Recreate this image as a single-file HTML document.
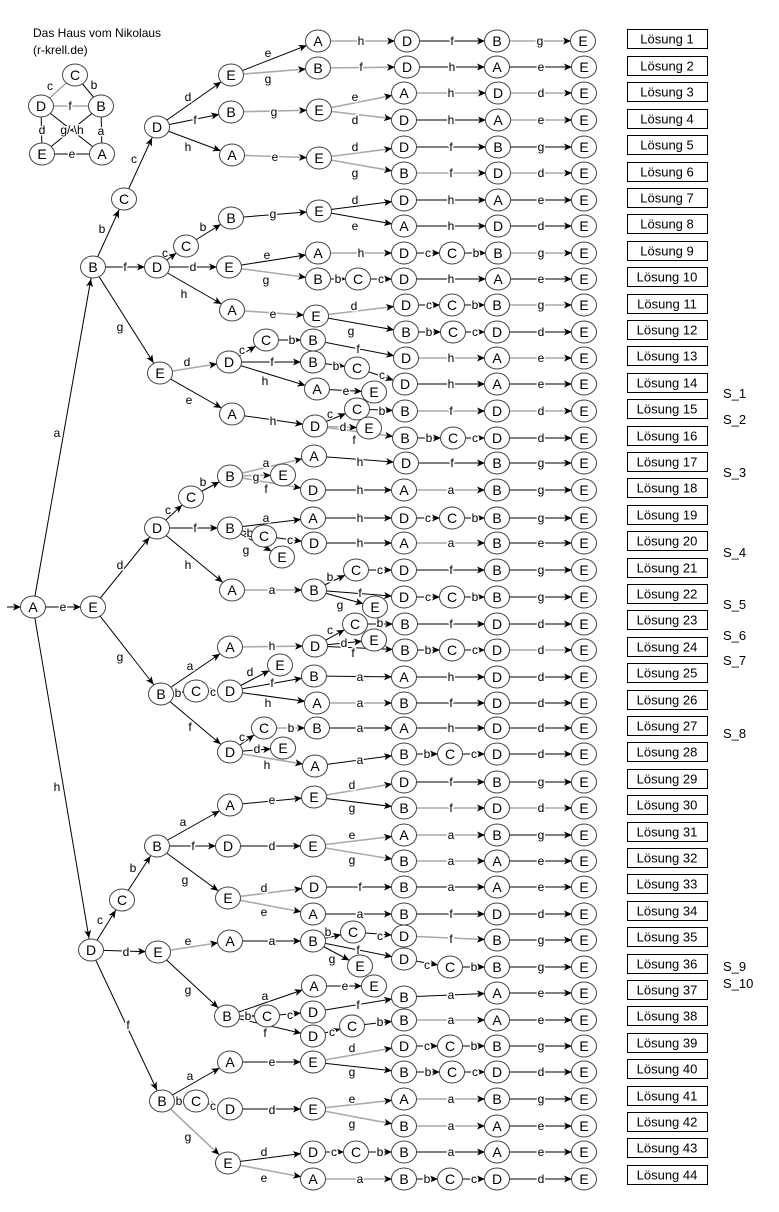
<!DOCTYPE html>
<html><head><meta charset="utf-8"><style>
body{margin:0;background:#fff}
svg{display:block}
.e path{stroke:#000;stroke-width:1;fill:none;marker-end:url(#ar)}
.e path.g{stroke:#aaa;stroke-width:1.6}
.l text{font:12px "Liberation Sans",sans-serif;text-anchor:middle;dominant-baseline:central;paint-order:stroke;stroke:#fff;stroke-width:3px;fill:#000}
.n ellipse{fill:#fff;stroke:#444;stroke-width:1}
.n text{font:14px "Liberation Sans",sans-serif;text-anchor:middle;dominant-baseline:central;fill:#000}
.b rect{fill:#fff;stroke:#000;stroke-width:1}
.b text{font:13px "Liberation Sans",sans-serif;text-anchor:middle;dominant-baseline:central}
.s{font:13px "Liberation Sans",sans-serif}
</style></head><body>
<svg width="779" height="1212" viewBox="0 0 779 1212" xmlns="http://www.w3.org/2000/svg">
<defs><marker id="ar" markerUnits="userSpaceOnUse" markerWidth="26" markerHeight="10" viewBox="-26 -5 26 10" refX="0" refY="0" orient="auto"><path d="M-12,0 L-20,-3.5 L-18,0 L-20,3.5 z" fill="#000"/></marker></defs>

<text x="33" y="37" style="font:12px 'Liberation Sans',sans-serif">Das Haus vom Nikolaus</text>
<text x="33" y="54" style="font:12px 'Liberation Sans',sans-serif">(r-krell.de)</text>
<g stroke="#000" stroke-width="1">
<line x1="75" y1="75" x2="41" y2="106" stroke="#888"/><line x1="75" y1="75" x2="101" y2="106"/>
<line x1="41" y1="106" x2="101" y2="106" stroke="#aaa" stroke-width="1.6"/>
<line x1="41" y1="106" x2="42" y2="154"/><line x1="101" y1="106" x2="102" y2="154"/>
<line x1="42" y1="154" x2="102" y2="154"/><line x1="41" y1="106" x2="102" y2="154"/><line x1="101" y1="106" x2="42" y2="154"/>
</g>
<g class="l"><text x="50" y="86">c</text><text x="94" y="85">b</text><text x="70" y="106">f</text><text x="42" y="130">d</text><text x="72" y="130">g/ \h</text><text x="101" y="131">a</text><text x="72" y="154">e</text></g>
<g class="n">
<ellipse cx="75" cy="75" rx="12.5" ry="11"/><text x="75" y="75">C</text>
<ellipse cx="41" cy="106" rx="12.5" ry="11"/><text x="41" y="106">D</text>
<ellipse cx="101" cy="106" rx="12.5" ry="11"/><text x="101" y="106">B</text>
<ellipse cx="42" cy="154" rx="12.5" ry="11"/><text x="42" y="154">E</text>
<ellipse cx="102" cy="154" rx="12.5" ry="11"/><text x="102" y="154">A</text>
</g>

<g class="e">
<path d="M7 607L33 607"/>
<path d="M33 607L93 267"/><path d="M33 607L93 607"/><path d="M33 607L91 950"/>
<path d="M93 267L124 199"/><path d="M124 199L157 127"/>
<path d="M157 127L231 75"/><path d="M157 127L231 112"/><path d="M157 127L232 155"/>
<path d="M231 75L318 41"/><path d="M231 75L318 68" class="g"/>
<path d="M318 41L407 41" class="g"/><path d="M407 41L497 41"/><path d="M497 41L583 41" class="g"/>
<path d="M318 68L407 67" class="g"/><path d="M407 67L497 67"/><path d="M497 67L584 67"/>
<path d="M231 112L319 110" class="g"/>
<path d="M319 110L404 93" class="g"/><path d="M404 93L498 93" class="g"/><path d="M498 93L584 93" class="g"/>
<path d="M319 110L404 120" class="g"/><path d="M404 120L498 120"/><path d="M498 120L584 120" class="g"/>
<path d="M232 155L319 158" class="g"/>
<path d="M319 158L404 147" class="g"/><path d="M404 147L498 147"/><path d="M498 147L584 147"/>
<path d="M319 158L404 173" class="g"/><path d="M404 173L498 173" class="g"/><path d="M498 173L584 173" class="g"/>
<path d="M93 267L157 267"/><path d="M157 267L186 246"/><path d="M186 246L231 218"/>
<path d="M231 218L319 211"/>
<path d="M319 211L404 200"/><path d="M404 200L498 200"/><path d="M498 200L584 200"/>
<path d="M319 211L404 226"/><path d="M404 226L498 226"/><path d="M498 226L584 226"/>
<path d="M157 267L229 267"/>
<path d="M229 267L318 253"/><path d="M318 253L404 253" class="g"/><path d="M404 253L452 253"/><path d="M452 253L498 253"/><path d="M498 253L584 253" class="g"/>
<path d="M229 267L318 279" class="g"/><path d="M318 279L358 279"/><path d="M358 279L404 279"/><path d="M404 279L498 279"/><path d="M498 279L584 279"/>
<path d="M157 267L232 310"/><path d="M232 310L316 316" class="g"/>
<path d="M316 316L406 305" class="g"/><path d="M406 305L452 305"/><path d="M452 305L497 305"/><path d="M497 305L584 305" class="g"/>
<path d="M316 316L406 332"/><path d="M406 332L453 332"/><path d="M453 332L497 332"/><path d="M497 332L584 332"/>
<path d="M93 267L160 373"/>
<path d="M160 373L229 362" class="g"/>
<path d="M229 362L266 340"/><path d="M266 340L313 340"/><path d="M313 340L406 358"/><path d="M406 358L497 358" class="g"/><path d="M497 358L584 358" class="g"/>
<path d="M229 362L313 362"/><path d="M313 362L357 368"/><path d="M357 368L405 384"/><path d="M405 384L497 384"/><path d="M497 384L584 384"/>
<path d="M229 362L317 389"/><path d="M317 389L374 392"/>
<path d="M160 373L232 414"/><path d="M232 414L315 426"/>
<path d="M315 426L357 409"/><path d="M357 409L405 411"/><path d="M405 411L497 411" class="g"/><path d="M497 411L584 411" class="g"/>
<path d="M315 426L369 428" class="g"/>
<path d="M315 426L405 438" class="g"/><path d="M405 438L453 438"/><path d="M453 438L497 438"/><path d="M497 438L584 438"/>

<path d="M93 607L157 528"/>
<path d="M157 528L191 497"/><path d="M191 497L230 476"/>
<path d="M230 476L314 456" class="g"/><path d="M314 456L406 463"/><path d="M406 463L497 463"/><path d="M497 463L584 463"/>
<path d="M230 476L283 475" class="g"/>
<path d="M230 476L313 490" class="g"/><path d="M313 490L404 490"/><path d="M404 490L497 490" class="g"/><path d="M497 490L584 490"/>
<path d="M157 528L230 528"/>
<path d="M230 528L313 518"/><path d="M313 518L404 518"/><path d="M404 518L452 518"/><path d="M452 518L497 518"/><path d="M497 518L584 518"/>
<path d="M230 528L264 536"/><path d="M264 536L314 543"/><path d="M314 543L404 543"/><path d="M404 543L497 543" class="g"/><path d="M497 543L584 543"/>
<path d="M230 528L282 557"/>
<path d="M157 528L232 590"/><path d="M232 590L314 590" class="g"/>
<path d="M314 590L356 570"/><path d="M356 570L404 570"/><path d="M404 570L497 570"/><path d="M497 570L584 570"/>
<path d="M314 590L404 597"/><path d="M404 597L452 597"/><path d="M452 597L497 597"/><path d="M497 597L584 597"/>
<path d="M314 590L375 607"/>
<path d="M93 607L161 694"/>
<path d="M161 694L230 647"/><path d="M230 647L315 646" class="g"/>
<path d="M315 646L355 624"/><path d="M355 624L405 624"/><path d="M405 624L497 624"/><path d="M497 624L584 624"/>
<path d="M315 646L374 640"/>
<path d="M315 646L405 650"/><path d="M405 650L452 650"/><path d="M452 650L497 650"/><path d="M497 650L584 650" class="g"/>
<path d="M161 694L196 691"/><path d="M196 691L230 691"/>
<path d="M230 691L280 665"/>
<path d="M230 691L314 676"/><path d="M314 676L404 677"/><path d="M404 677L497 677"/><path d="M497 677L584 677"/>
<path d="M230 691L317 703"/><path d="M317 703L404 703" class="g"/><path d="M404 703L497 703"/><path d="M497 703L584 703"/>
<path d="M161 694L230 752"/>
<path d="M230 752L264 728"/><path d="M264 728L317 728" class="g"/><path d="M317 728L404 728"/><path d="M404 728L497 728"/><path d="M497 728L584 728"/>
<path d="M230 752L283 748"/>
<path d="M230 752L315 766" class="g"/><path d="M315 766L404 754"/><path d="M404 754L450 754"/><path d="M450 754L497 754"/><path d="M497 754L584 754"/>

<path d="M91 950L122 900"/><path d="M122 900L157 846"/>
<path d="M157 846L230 805"/><path d="M230 805L314 797"/>
<path d="M314 797L404 782" class="g"/><path d="M404 782L497 782"/><path d="M497 782L584 782"/>
<path d="M314 797L404 808"/><path d="M404 808L497 808" class="g"/><path d="M497 808L584 808" class="g"/>
<path d="M157 846L228 846"/><path d="M228 846L313 846"/>
<path d="M313 846L404 835" class="g"/><path d="M404 835L497 835" class="g"/><path d="M497 835L584 835"/>
<path d="M313 846L404 861" class="g"/><path d="M404 861L497 861" class="g"/><path d="M497 861L584 861"/>
<path d="M157 846L228 898"/>
<path d="M228 898L314 887" class="g"/><path d="M314 887L404 887"/><path d="M404 887L497 887"/><path d="M497 887L584 887"/>
<path d="M228 898L313 914" class="g"/><path d="M313 914L404 914"/><path d="M404 914L497 914"/><path d="M497 914L584 914"/>
<path d="M91 950L158 952"/>
<path d="M158 952L230 941" class="g"/><path d="M230 941L313 941"/>
<path d="M313 941L353 932"/><path d="M353 932L404 936"/><path d="M404 936L497 940" class="g"/><path d="M497 940L584 940"/>
<path d="M313 941L404 959"/><path d="M404 959L450 967"/><path d="M450 967L497 967"/><path d="M497 967L584 967"/>
<path d="M313 941L360 966"/>
<path d="M158 952L227 1016"/>
<path d="M227 1016L314 986"/><path d="M314 986L374 986"/>
<path d="M227 1016L267 1016"/><path d="M267 1016L313 1012"/>
<path d="M313 1012L404 997"/><path d="M404 997L497 993"/><path d="M497 993L584 993"/>
<path d="M227 1016L313 1036"/><path d="M313 1036L352 1026"/><path d="M352 1026L404 1020"/><path d="M404 1020L497 1020" class="g"/><path d="M497 1020L584 1020"/>
<path d="M91 950L162 1101"/>
<path d="M162 1101L230 1062"/><path d="M230 1062L313 1062"/>
<path d="M313 1062L404 1046" class="g"/><path d="M404 1046L450 1046"/><path d="M450 1046L497 1046"/><path d="M497 1046L584 1046"/>
<path d="M313 1062L404 1072"/><path d="M404 1072L452 1072"/><path d="M452 1072L497 1072"/><path d="M497 1072L584 1072"/>
<path d="M162 1101L196 1101"/><path d="M196 1101L230 1109"/><path d="M230 1109L313 1109"/>
<path d="M313 1109L404 1099" class="g"/><path d="M404 1099L497 1099" class="g"/><path d="M497 1099L584 1099"/>
<path d="M313 1109L404 1126" class="g"/><path d="M404 1126L497 1126" class="g"/><path d="M497 1126L584 1126"/>
<path d="M162 1101L228 1163" class="g"/>
<path d="M228 1163L313 1152"/><path d="M313 1152L356 1152"/><path d="M356 1152L404 1152"/><path d="M404 1152L497 1152"/><path d="M497 1152L584 1152"/>
<path d="M228 1163L313 1179" class="g"/><path d="M313 1179L404 1179" class="g"/><path d="M404 1179L450 1179"/><path d="M450 1179L497 1179"/><path d="M497 1179L584 1179"/>
</g>

<g class="l">
<text x="57" y="433">a</text><text x="63" y="607">e</text><text x="57" y="787">h</text>
<text x="102" y="229">b</text><text x="134" y="159">c</text>
<text x="188" y="97">d</text><text x="195" y="120">f</text><text x="188" y="147">h</text>
<text x="268" y="53">e</text><text x="268" y="79">g</text>
<text x="361" y="41">h</text><text x="452" y="41">f</text><text x="540" y="41">g</text>
<text x="361" y="67">f</text><text x="452" y="67">h</text><text x="541" y="67">e</text>
<text x="274" y="112">g</text>
<text x="355" y="97">e</text><text x="451" y="93">h</text><text x="541" y="93">d</text>
<text x="355" y="120">d</text><text x="451" y="120">h</text><text x="541" y="120">e</text>
<text x="275" y="157">e</text>
<text x="355" y="147">d</text><text x="451" y="147">f</text><text x="541" y="147">g</text>
<text x="355" y="173">g</text><text x="451" y="173">f</text><text x="541" y="173">d</text>
<text x="125" y="267">f</text><text x="165" y="253">c</text><text x="203" y="227">b</text>
<text x="273" y="214">g</text>
<text x="355" y="200">d</text><text x="451" y="200">h</text><text x="541" y="200">e</text>
<text x="355" y="226">e</text><text x="451" y="226">h</text><text x="541" y="226">d</text>
<text x="193" y="267">d</text>
<text x="267" y="255">e</text><text x="361" y="253">h</text><text x="428" y="253">c</text><text x="476" y="253">b</text><text x="541" y="253">g</text>
<text x="266" y="280">g</text><text x="338" y="279">b</text><text x="381" y="279">c</text><text x="451" y="279">h</text><text x="541" y="279">e</text>
<text x="184" y="294">h</text><text x="273" y="314">e</text>
<text x="354" y="306">d</text><text x="429" y="305">c</text><text x="475" y="305">b</text><text x="541" y="305">g</text>
<text x="351" y="331">g</text><text x="429" y="332">b</text><text x="475" y="332">c</text><text x="541" y="332">d</text>
<text x="120" y="327">g</text>
<text x="187" y="362">d</text>
<text x="242" y="350">c</text><text x="292" y="340">b</text><text x="358" y="349">f</text><text x="451" y="358">h</text><text x="541" y="358">e</text>
<text x="272" y="362">f</text><text x="336" y="366">b</text><text x="382" y="375">c</text><text x="451" y="384">h</text><text x="541" y="384">e</text>
<text x="265" y="381">h</text><text x="346" y="391">e</text>
<text x="189" y="400">e</text><text x="273" y="421">h</text>
<text x="330" y="414">c</text><text x="382" y="411">b</text><text x="451" y="411">f</text><text x="541" y="411">d</text>
<text x="343" y="427">d</text>
<text x="354" y="440">f</text><text x="429" y="438">b</text><text x="475" y="438">c</text><text x="541" y="438">d</text>

<text x="120" y="565">d</text>
<text x="168" y="510">c</text><text x="203" y="482">b</text>
<text x="266" y="463">a</text><text x="360" y="462">h</text><text x="452" y="463">f</text><text x="541" y="463">g</text>
<text x="256" y="477">g</text>
<text x="266" y="489">f</text><text x="360" y="490">h</text><text x="451" y="490">a</text><text x="541" y="490">g</text>
<text x="195" y="528">f</text>
<text x="266" y="518">a</text><text x="360" y="518">h</text><text x="428" y="518">c</text><text x="475" y="518">b</text><text x="541" y="518">g</text>
<text x="250" y="533">b</text><text x="290" y="540">c</text><text x="360" y="543">h</text><text x="451" y="543">a</text><text x="541" y="543">e</text>
<text x="246" y="550">g</text>
<text x="188" y="565">h</text><text x="272" y="590">a</text>
<text x="330" y="577">b</text><text x="380" y="570">c</text><text x="451" y="570">f</text><text x="541" y="570">g</text>
<text x="360" y="593">f</text><text x="428" y="597">c</text><text x="475" y="597">b</text><text x="541" y="597">g</text>
<text x="340" y="605">g</text>
<text x="120" y="657">g</text>
<text x="190" y="666">a</text><text x="272" y="646">h</text>
<text x="330" y="630">c</text><text x="380" y="623">b</text><text x="451" y="624">f</text><text x="541" y="624">d</text>
<text x="344" y="643">d</text>
<text x="353" y="653">f</text><text x="428" y="650">b</text><text x="475" y="650">c</text><text x="541" y="650">d</text>
<text x="178" y="693">b</text><text x="213" y="692">c</text>
<text x="250" y="672">d</text>
<text x="272" y="683">f</text><text x="360" y="677">a</text><text x="451" y="677">h</text><text x="541" y="677">d</text>
<text x="268" y="703">h</text><text x="360" y="703">a</text><text x="451" y="703">f</text><text x="541" y="703">d</text>
<text x="190" y="727">f</text>
<text x="242" y="737">c</text><text x="291" y="728">b</text><text x="360" y="728">a</text><text x="451" y="728">h</text><text x="541" y="728">d</text>
<text x="257" y="749">d</text>
<text x="267" y="765">h</text><text x="360" y="760">a</text><text x="427" y="754">b</text><text x="474" y="754">c</text><text x="541" y="754">d</text>

<text x="100" y="920">c</text><text x="133" y="868">b</text>
<text x="183" y="822">a</text><text x="272" y="800">e</text>
<text x="352" y="785">d</text><text x="451" y="782">f</text><text x="541" y="782">g</text>
<text x="352" y="808">g</text><text x="451" y="808">f</text><text x="541" y="808">d</text>
<text x="193" y="846">f</text><text x="272" y="846">d</text>
<text x="352" y="835">e</text><text x="451" y="835">a</text><text x="541" y="835">g</text>
<text x="352" y="860">g</text><text x="451" y="861">a</text><text x="541" y="861">e</text>
<text x="185" y="880">g</text>
<text x="264" y="888">d</text><text x="360" y="887">f</text><text x="451" y="887">a</text><text x="541" y="887">e</text>
<text x="264" y="912">e</text><text x="360" y="914">a</text><text x="451" y="914">f</text><text x="541" y="914">d</text>
<text x="126" y="952">d</text>
<text x="188" y="941">e</text><text x="272" y="941">a</text>
<text x="328" y="932">b</text><text x="380" y="936">c</text><text x="451" y="939">f</text><text x="541" y="940">g</text>
<text x="358" y="950">f</text><text x="427" y="965">c</text><text x="474" y="967">b</text><text x="541" y="967">g</text>
<text x="332" y="959">g</text>
<text x="188" y="990">g</text>
<text x="265" y="996">a</text><text x="345" y="986">e</text>
<text x="248" y="1016">b</text><text x="290" y="1015">c</text>
<text x="358" y="1005">f</text><text x="451" y="995">a</text><text x="541" y="993">e</text>
<text x="265" y="1033">f</text><text x="332" y="1032">c</text><text x="380" y="1022">b</text><text x="451" y="1020">a</text><text x="541" y="1020">e</text>
<text x="128" y="1025">f</text>
<text x="190" y="1076">a</text><text x="272" y="1062">e</text>
<text x="352" y="1048">d</text><text x="427" y="1046">c</text><text x="474" y="1046">b</text><text x="541" y="1046">g</text>
<text x="352" y="1072">g</text><text x="428" y="1072">b</text><text x="475" y="1072">c</text><text x="541" y="1072">d</text>
<text x="179" y="1101">b</text><text x="213" y="1106">c</text><text x="272" y="1110">d</text>
<text x="352" y="1099">e</text><text x="451" y="1099">a</text><text x="541" y="1099">g</text>
<text x="352" y="1124">g</text><text x="451" y="1126">a</text><text x="541" y="1126">e</text>
<text x="188" y="1137">g</text>
<text x="264" y="1152">d</text><text x="334" y="1152">c</text><text x="380" y="1152">b</text><text x="451" y="1152">a</text><text x="541" y="1152">e</text>
<text x="264" y="1178">e</text><text x="360" y="1179">a</text><text x="427" y="1179">b</text><text x="474" y="1179">c</text><text x="541" y="1179">d</text>
</g>

<g class="n">
<ellipse cx="33" cy="607" rx="12.5" ry="11"/><text x="33" y="607">A</text>
<ellipse cx="93" cy="267" rx="12.5" ry="11"/><text x="93" y="267">B</text>
<ellipse cx="93" cy="607" rx="12.5" ry="11"/><text x="93" y="607">E</text>
<ellipse cx="91" cy="950" rx="12.5" ry="11"/><text x="91" y="950">D</text>
<ellipse cx="124" cy="199" rx="12.5" ry="11"/><text x="124" y="199">C</text>
<ellipse cx="157" cy="127" rx="12.5" ry="11"/><text x="157" y="127">D</text>
<ellipse cx="231" cy="75" rx="12.5" ry="11"/><text x="231" y="75">E</text>
<ellipse cx="231" cy="112" rx="12.5" ry="11"/><text x="231" y="112">B</text>
<ellipse cx="232" cy="155" rx="12.5" ry="11"/><text x="232" y="155">A</text>
<ellipse cx="318" cy="41" rx="12.5" ry="11"/><text x="318" y="41">A</text>
<ellipse cx="407" cy="41" rx="12.5" ry="11"/><text x="407" y="41">D</text>
<ellipse cx="497" cy="41" rx="12.5" ry="11"/><text x="497" y="41">B</text>
<ellipse cx="583" cy="41" rx="12.5" ry="11"/><text x="583" y="41">E</text>
<ellipse cx="318" cy="68" rx="12.5" ry="11"/><text x="318" y="68">B</text>
<ellipse cx="407" cy="67" rx="12.5" ry="11"/><text x="407" y="67">D</text>
<ellipse cx="497" cy="67" rx="12.5" ry="11"/><text x="497" y="67">A</text>
<ellipse cx="584" cy="67" rx="12.5" ry="11"/><text x="584" y="67">E</text>
<ellipse cx="319" cy="110" rx="12.5" ry="11"/><text x="319" y="110">E</text>
<ellipse cx="404" cy="93" rx="12.5" ry="11"/><text x="404" y="93">A</text>
<ellipse cx="498" cy="93" rx="12.5" ry="11"/><text x="498" y="93">D</text>
<ellipse cx="584" cy="93" rx="12.5" ry="11"/><text x="584" y="93">E</text>
<ellipse cx="404" cy="120" rx="12.5" ry="11"/><text x="404" y="120">D</text>
<ellipse cx="498" cy="120" rx="12.5" ry="11"/><text x="498" y="120">A</text>
<ellipse cx="584" cy="120" rx="12.5" ry="11"/><text x="584" y="120">E</text>
<ellipse cx="319" cy="158" rx="12.5" ry="11"/><text x="319" y="158">E</text>
<ellipse cx="404" cy="147" rx="12.5" ry="11"/><text x="404" y="147">D</text>
<ellipse cx="498" cy="147" rx="12.5" ry="11"/><text x="498" y="147">B</text>
<ellipse cx="584" cy="147" rx="12.5" ry="11"/><text x="584" y="147">E</text>
<ellipse cx="404" cy="173" rx="12.5" ry="11"/><text x="404" y="173">B</text>
<ellipse cx="498" cy="173" rx="12.5" ry="11"/><text x="498" y="173">D</text>
<ellipse cx="584" cy="173" rx="12.5" ry="11"/><text x="584" y="173">E</text>
<ellipse cx="157" cy="267" rx="12.5" ry="11"/><text x="157" y="267">D</text>
<ellipse cx="186" cy="246" rx="12.5" ry="11"/><text x="186" y="246">C</text>
<ellipse cx="231" cy="218" rx="12.5" ry="11"/><text x="231" y="218">B</text>
<ellipse cx="319" cy="211" rx="12.5" ry="11"/><text x="319" y="211">E</text>
<ellipse cx="404" cy="200" rx="12.5" ry="11"/><text x="404" y="200">D</text>
<ellipse cx="498" cy="200" rx="12.5" ry="11"/><text x="498" y="200">A</text>
<ellipse cx="584" cy="200" rx="12.5" ry="11"/><text x="584" y="200">E</text>
<ellipse cx="404" cy="226" rx="12.5" ry="11"/><text x="404" y="226">A</text>
<ellipse cx="498" cy="226" rx="12.5" ry="11"/><text x="498" y="226">D</text>
<ellipse cx="584" cy="226" rx="12.5" ry="11"/><text x="584" y="226">E</text>
<ellipse cx="229" cy="267" rx="12.5" ry="11"/><text x="229" y="267">E</text>
<ellipse cx="318" cy="253" rx="12.5" ry="11"/><text x="318" y="253">A</text>
<ellipse cx="404" cy="253" rx="12.5" ry="11"/><text x="404" y="253">D</text>
<ellipse cx="452" cy="253" rx="12.5" ry="11"/><text x="452" y="253">C</text>
<ellipse cx="498" cy="253" rx="12.5" ry="11"/><text x="498" y="253">B</text>
<ellipse cx="584" cy="253" rx="12.5" ry="11"/><text x="584" y="253">E</text>
<ellipse cx="318" cy="279" rx="12.5" ry="11"/><text x="318" y="279">B</text>
<ellipse cx="358" cy="279" rx="12.5" ry="11"/><text x="358" y="279">C</text>
<ellipse cx="404" cy="279" rx="12.5" ry="11"/><text x="404" y="279">D</text>
<ellipse cx="498" cy="279" rx="12.5" ry="11"/><text x="498" y="279">A</text>
<ellipse cx="584" cy="279" rx="12.5" ry="11"/><text x="584" y="279">E</text>
<ellipse cx="232" cy="310" rx="12.5" ry="11"/><text x="232" y="310">A</text>
<ellipse cx="316" cy="316" rx="12.5" ry="11"/><text x="316" y="316">E</text>
<ellipse cx="406" cy="305" rx="12.5" ry="11"/><text x="406" y="305">D</text>
<ellipse cx="452" cy="305" rx="12.5" ry="11"/><text x="452" y="305">C</text>
<ellipse cx="497" cy="305" rx="12.5" ry="11"/><text x="497" y="305">B</text>
<ellipse cx="584" cy="305" rx="12.5" ry="11"/><text x="584" y="305">E</text>
<ellipse cx="406" cy="332" rx="12.5" ry="11"/><text x="406" y="332">B</text>
<ellipse cx="453" cy="332" rx="12.5" ry="11"/><text x="453" y="332">C</text>
<ellipse cx="497" cy="332" rx="12.5" ry="11"/><text x="497" y="332">D</text>
<ellipse cx="584" cy="332" rx="12.5" ry="11"/><text x="584" y="332">E</text>
<ellipse cx="160" cy="373" rx="12.5" ry="11"/><text x="160" y="373">E</text>
<ellipse cx="229" cy="362" rx="12.5" ry="11"/><text x="229" y="362">D</text>
<ellipse cx="266" cy="340" rx="12.5" ry="11"/><text x="266" y="340">C</text>
<ellipse cx="313" cy="340" rx="12.5" ry="11"/><text x="313" y="340">B</text>
<ellipse cx="406" cy="358" rx="12.5" ry="11"/><text x="406" y="358">D</text>
<ellipse cx="497" cy="358" rx="12.5" ry="11"/><text x="497" y="358">A</text>
<ellipse cx="584" cy="358" rx="12.5" ry="11"/><text x="584" y="358">E</text>
<ellipse cx="313" cy="362" rx="12.5" ry="11"/><text x="313" y="362">B</text>
<ellipse cx="357" cy="368" rx="12.5" ry="11"/><text x="357" y="368">C</text>
<ellipse cx="405" cy="384" rx="12.5" ry="11"/><text x="405" y="384">D</text>
<ellipse cx="497" cy="384" rx="12.5" ry="11"/><text x="497" y="384">A</text>
<ellipse cx="584" cy="384" rx="12.5" ry="11"/><text x="584" y="384">E</text>
<ellipse cx="317" cy="389" rx="12.5" ry="11"/><text x="317" y="389">A</text>
<ellipse cx="374" cy="392" rx="12.5" ry="11"/><text x="374" y="392">E</text>
<ellipse cx="232" cy="414" rx="12.5" ry="11"/><text x="232" y="414">A</text>
<ellipse cx="315" cy="426" rx="12.5" ry="11"/><text x="315" y="426">D</text>
<ellipse cx="357" cy="409" rx="12.5" ry="11"/><text x="357" y="409">C</text>
<ellipse cx="405" cy="411" rx="12.5" ry="11"/><text x="405" y="411">B</text>
<ellipse cx="497" cy="411" rx="12.5" ry="11"/><text x="497" y="411">D</text>
<ellipse cx="584" cy="411" rx="12.5" ry="11"/><text x="584" y="411">E</text>
<ellipse cx="369" cy="428" rx="12.5" ry="11"/><text x="369" y="428">E</text>
<ellipse cx="405" cy="438" rx="12.5" ry="11"/><text x="405" y="438">B</text>
<ellipse cx="453" cy="438" rx="12.5" ry="11"/><text x="453" y="438">C</text>
<ellipse cx="497" cy="438" rx="12.5" ry="11"/><text x="497" y="438">D</text>
<ellipse cx="584" cy="438" rx="12.5" ry="11"/><text x="584" y="438">E</text>
<ellipse cx="157" cy="528" rx="12.5" ry="11"/><text x="157" y="528">D</text>
<ellipse cx="191" cy="497" rx="12.5" ry="11"/><text x="191" y="497">C</text>
<ellipse cx="230" cy="476" rx="12.5" ry="11"/><text x="230" y="476">B</text>
<ellipse cx="314" cy="456" rx="12.5" ry="11"/><text x="314" y="456">A</text>
<ellipse cx="406" cy="463" rx="12.5" ry="11"/><text x="406" y="463">D</text>
<ellipse cx="497" cy="463" rx="12.5" ry="11"/><text x="497" y="463">B</text>
<ellipse cx="584" cy="463" rx="12.5" ry="11"/><text x="584" y="463">E</text>
<ellipse cx="283" cy="475" rx="12.5" ry="11"/><text x="283" y="475">E</text>
<ellipse cx="313" cy="490" rx="12.5" ry="11"/><text x="313" y="490">D</text>
<ellipse cx="404" cy="490" rx="12.5" ry="11"/><text x="404" y="490">A</text>
<ellipse cx="497" cy="490" rx="12.5" ry="11"/><text x="497" y="490">B</text>
<ellipse cx="584" cy="490" rx="12.5" ry="11"/><text x="584" y="490">E</text>
<ellipse cx="230" cy="528" rx="12.5" ry="11"/><text x="230" y="528">B</text>
<ellipse cx="313" cy="518" rx="12.5" ry="11"/><text x="313" y="518">A</text>
<ellipse cx="404" cy="518" rx="12.5" ry="11"/><text x="404" y="518">D</text>
<ellipse cx="452" cy="518" rx="12.5" ry="11"/><text x="452" y="518">C</text>
<ellipse cx="497" cy="518" rx="12.5" ry="11"/><text x="497" y="518">B</text>
<ellipse cx="584" cy="518" rx="12.5" ry="11"/><text x="584" y="518">E</text>
<ellipse cx="264" cy="536" rx="12.5" ry="11"/><text x="264" y="536">C</text>
<ellipse cx="314" cy="543" rx="12.5" ry="11"/><text x="314" y="543">D</text>
<ellipse cx="404" cy="543" rx="12.5" ry="11"/><text x="404" y="543">A</text>
<ellipse cx="497" cy="543" rx="12.5" ry="11"/><text x="497" y="543">B</text>
<ellipse cx="584" cy="543" rx="12.5" ry="11"/><text x="584" y="543">E</text>
<ellipse cx="282" cy="557" rx="12.5" ry="11"/><text x="282" y="557">E</text>
<ellipse cx="232" cy="590" rx="12.5" ry="11"/><text x="232" y="590">A</text>
<ellipse cx="314" cy="590" rx="12.5" ry="11"/><text x="314" y="590">B</text>
<ellipse cx="356" cy="570" rx="12.5" ry="11"/><text x="356" y="570">C</text>
<ellipse cx="404" cy="570" rx="12.5" ry="11"/><text x="404" y="570">D</text>
<ellipse cx="497" cy="570" rx="12.5" ry="11"/><text x="497" y="570">B</text>
<ellipse cx="584" cy="570" rx="12.5" ry="11"/><text x="584" y="570">E</text>
<ellipse cx="404" cy="597" rx="12.5" ry="11"/><text x="404" y="597">D</text>
<ellipse cx="452" cy="597" rx="12.5" ry="11"/><text x="452" y="597">C</text>
<ellipse cx="497" cy="597" rx="12.5" ry="11"/><text x="497" y="597">B</text>
<ellipse cx="584" cy="597" rx="12.5" ry="11"/><text x="584" y="597">E</text>
<ellipse cx="375" cy="607" rx="12.5" ry="11"/><text x="375" y="607">E</text>
<ellipse cx="161" cy="694" rx="12.5" ry="11"/><text x="161" y="694">B</text>
<ellipse cx="230" cy="647" rx="12.5" ry="11"/><text x="230" y="647">A</text>
<ellipse cx="315" cy="646" rx="12.5" ry="11"/><text x="315" y="646">D</text>
<ellipse cx="355" cy="624" rx="12.5" ry="11"/><text x="355" y="624">C</text>
<ellipse cx="405" cy="624" rx="12.5" ry="11"/><text x="405" y="624">B</text>
<ellipse cx="497" cy="624" rx="12.5" ry="11"/><text x="497" y="624">D</text>
<ellipse cx="584" cy="624" rx="12.5" ry="11"/><text x="584" y="624">E</text>
<ellipse cx="374" cy="640" rx="12.5" ry="11"/><text x="374" y="640">E</text>
<ellipse cx="405" cy="650" rx="12.5" ry="11"/><text x="405" y="650">B</text>
<ellipse cx="452" cy="650" rx="12.5" ry="11"/><text x="452" y="650">C</text>
<ellipse cx="497" cy="650" rx="12.5" ry="11"/><text x="497" y="650">D</text>
<ellipse cx="584" cy="650" rx="12.5" ry="11"/><text x="584" y="650">E</text>
<ellipse cx="196" cy="691" rx="12.5" ry="11"/><text x="196" y="691">C</text>
<ellipse cx="230" cy="691" rx="12.5" ry="11"/><text x="230" y="691">D</text>
<ellipse cx="280" cy="665" rx="12.5" ry="11"/><text x="280" y="665">E</text>
<ellipse cx="314" cy="676" rx="12.5" ry="11"/><text x="314" y="676">B</text>
<ellipse cx="404" cy="677" rx="12.5" ry="11"/><text x="404" y="677">A</text>
<ellipse cx="497" cy="677" rx="12.5" ry="11"/><text x="497" y="677">D</text>
<ellipse cx="584" cy="677" rx="12.5" ry="11"/><text x="584" y="677">E</text>
<ellipse cx="317" cy="703" rx="12.5" ry="11"/><text x="317" y="703">A</text>
<ellipse cx="404" cy="703" rx="12.5" ry="11"/><text x="404" y="703">B</text>
<ellipse cx="497" cy="703" rx="12.5" ry="11"/><text x="497" y="703">D</text>
<ellipse cx="584" cy="703" rx="12.5" ry="11"/><text x="584" y="703">E</text>
<ellipse cx="230" cy="752" rx="12.5" ry="11"/><text x="230" y="752">D</text>
<ellipse cx="264" cy="728" rx="12.5" ry="11"/><text x="264" y="728">C</text>
<ellipse cx="317" cy="728" rx="12.5" ry="11"/><text x="317" y="728">B</text>
<ellipse cx="404" cy="728" rx="12.5" ry="11"/><text x="404" y="728">A</text>
<ellipse cx="497" cy="728" rx="12.5" ry="11"/><text x="497" y="728">D</text>
<ellipse cx="584" cy="728" rx="12.5" ry="11"/><text x="584" y="728">E</text>
<ellipse cx="283" cy="748" rx="12.5" ry="11"/><text x="283" y="748">E</text>
<ellipse cx="315" cy="766" rx="12.5" ry="11"/><text x="315" y="766">A</text>
<ellipse cx="404" cy="754" rx="12.5" ry="11"/><text x="404" y="754">B</text>
<ellipse cx="450" cy="754" rx="12.5" ry="11"/><text x="450" y="754">C</text>
<ellipse cx="497" cy="754" rx="12.5" ry="11"/><text x="497" y="754">D</text>
<ellipse cx="584" cy="754" rx="12.5" ry="11"/><text x="584" y="754">E</text>
<ellipse cx="122" cy="900" rx="12.5" ry="11"/><text x="122" y="900">C</text>
<ellipse cx="157" cy="846" rx="12.5" ry="11"/><text x="157" y="846">B</text>
<ellipse cx="230" cy="805" rx="12.5" ry="11"/><text x="230" y="805">A</text>
<ellipse cx="314" cy="797" rx="12.5" ry="11"/><text x="314" y="797">E</text>
<ellipse cx="404" cy="782" rx="12.5" ry="11"/><text x="404" y="782">D</text>
<ellipse cx="497" cy="782" rx="12.5" ry="11"/><text x="497" y="782">B</text>
<ellipse cx="584" cy="782" rx="12.5" ry="11"/><text x="584" y="782">E</text>
<ellipse cx="404" cy="808" rx="12.5" ry="11"/><text x="404" y="808">B</text>
<ellipse cx="497" cy="808" rx="12.5" ry="11"/><text x="497" y="808">D</text>
<ellipse cx="584" cy="808" rx="12.5" ry="11"/><text x="584" y="808">E</text>
<ellipse cx="228" cy="846" rx="12.5" ry="11"/><text x="228" y="846">D</text>
<ellipse cx="313" cy="846" rx="12.5" ry="11"/><text x="313" y="846">E</text>
<ellipse cx="404" cy="835" rx="12.5" ry="11"/><text x="404" y="835">A</text>
<ellipse cx="497" cy="835" rx="12.5" ry="11"/><text x="497" y="835">B</text>
<ellipse cx="584" cy="835" rx="12.5" ry="11"/><text x="584" y="835">E</text>
<ellipse cx="404" cy="861" rx="12.5" ry="11"/><text x="404" y="861">B</text>
<ellipse cx="497" cy="861" rx="12.5" ry="11"/><text x="497" y="861">A</text>
<ellipse cx="584" cy="861" rx="12.5" ry="11"/><text x="584" y="861">E</text>
<ellipse cx="228" cy="898" rx="12.5" ry="11"/><text x="228" y="898">E</text>
<ellipse cx="314" cy="887" rx="12.5" ry="11"/><text x="314" y="887">D</text>
<ellipse cx="404" cy="887" rx="12.5" ry="11"/><text x="404" y="887">B</text>
<ellipse cx="497" cy="887" rx="12.5" ry="11"/><text x="497" y="887">A</text>
<ellipse cx="584" cy="887" rx="12.5" ry="11"/><text x="584" y="887">E</text>
<ellipse cx="313" cy="914" rx="12.5" ry="11"/><text x="313" y="914">A</text>
<ellipse cx="404" cy="914" rx="12.5" ry="11"/><text x="404" y="914">B</text>
<ellipse cx="497" cy="914" rx="12.5" ry="11"/><text x="497" y="914">D</text>
<ellipse cx="584" cy="914" rx="12.5" ry="11"/><text x="584" y="914">E</text>
<ellipse cx="158" cy="952" rx="12.5" ry="11"/><text x="158" y="952">E</text>
<ellipse cx="230" cy="941" rx="12.5" ry="11"/><text x="230" y="941">A</text>
<ellipse cx="313" cy="941" rx="12.5" ry="11"/><text x="313" y="941">B</text>
<ellipse cx="353" cy="932" rx="12.5" ry="11"/><text x="353" y="932">C</text>
<ellipse cx="404" cy="936" rx="12.5" ry="11"/><text x="404" y="936">D</text>
<ellipse cx="497" cy="940" rx="12.5" ry="11"/><text x="497" y="940">B</text>
<ellipse cx="584" cy="940" rx="12.5" ry="11"/><text x="584" y="940">E</text>
<ellipse cx="404" cy="959" rx="12.5" ry="11"/><text x="404" y="959">D</text>
<ellipse cx="450" cy="967" rx="12.5" ry="11"/><text x="450" y="967">C</text>
<ellipse cx="497" cy="967" rx="12.5" ry="11"/><text x="497" y="967">B</text>
<ellipse cx="584" cy="967" rx="12.5" ry="11"/><text x="584" y="967">E</text>
<ellipse cx="360" cy="966" rx="12.5" ry="11"/><text x="360" y="966">E</text>
<ellipse cx="227" cy="1016" rx="12.5" ry="11"/><text x="227" y="1016">B</text>
<ellipse cx="314" cy="986" rx="12.5" ry="11"/><text x="314" y="986">A</text>
<ellipse cx="374" cy="986" rx="12.5" ry="11"/><text x="374" y="986">E</text>
<ellipse cx="267" cy="1016" rx="12.5" ry="11"/><text x="267" y="1016">C</text>
<ellipse cx="313" cy="1012" rx="12.5" ry="11"/><text x="313" y="1012">D</text>
<ellipse cx="404" cy="997" rx="12.5" ry="11"/><text x="404" y="997">B</text>
<ellipse cx="497" cy="993" rx="12.5" ry="11"/><text x="497" y="993">A</text>
<ellipse cx="584" cy="993" rx="12.5" ry="11"/><text x="584" y="993">E</text>
<ellipse cx="313" cy="1036" rx="12.5" ry="11"/><text x="313" y="1036">D</text>
<ellipse cx="352" cy="1026" rx="12.5" ry="11"/><text x="352" y="1026">C</text>
<ellipse cx="404" cy="1020" rx="12.5" ry="11"/><text x="404" y="1020">B</text>
<ellipse cx="497" cy="1020" rx="12.5" ry="11"/><text x="497" y="1020">A</text>
<ellipse cx="584" cy="1020" rx="12.5" ry="11"/><text x="584" y="1020">E</text>
<ellipse cx="162" cy="1101" rx="12.5" ry="11"/><text x="162" y="1101">B</text>
<ellipse cx="230" cy="1062" rx="12.5" ry="11"/><text x="230" y="1062">A</text>
<ellipse cx="313" cy="1062" rx="12.5" ry="11"/><text x="313" y="1062">E</text>
<ellipse cx="404" cy="1046" rx="12.5" ry="11"/><text x="404" y="1046">D</text>
<ellipse cx="450" cy="1046" rx="12.5" ry="11"/><text x="450" y="1046">C</text>
<ellipse cx="497" cy="1046" rx="12.5" ry="11"/><text x="497" y="1046">B</text>
<ellipse cx="584" cy="1046" rx="12.5" ry="11"/><text x="584" y="1046">E</text>
<ellipse cx="404" cy="1072" rx="12.5" ry="11"/><text x="404" y="1072">B</text>
<ellipse cx="452" cy="1072" rx="12.5" ry="11"/><text x="452" y="1072">C</text>
<ellipse cx="497" cy="1072" rx="12.5" ry="11"/><text x="497" y="1072">D</text>
<ellipse cx="584" cy="1072" rx="12.5" ry="11"/><text x="584" y="1072">E</text>
<ellipse cx="196" cy="1101" rx="12.5" ry="11"/><text x="196" y="1101">C</text>
<ellipse cx="230" cy="1109" rx="12.5" ry="11"/><text x="230" y="1109">D</text>
<ellipse cx="313" cy="1109" rx="12.5" ry="11"/><text x="313" y="1109">E</text>
<ellipse cx="404" cy="1099" rx="12.5" ry="11"/><text x="404" y="1099">A</text>
<ellipse cx="497" cy="1099" rx="12.5" ry="11"/><text x="497" y="1099">B</text>
<ellipse cx="584" cy="1099" rx="12.5" ry="11"/><text x="584" y="1099">E</text>
<ellipse cx="404" cy="1126" rx="12.5" ry="11"/><text x="404" y="1126">B</text>
<ellipse cx="497" cy="1126" rx="12.5" ry="11"/><text x="497" y="1126">A</text>
<ellipse cx="584" cy="1126" rx="12.5" ry="11"/><text x="584" y="1126">E</text>
<ellipse cx="228" cy="1163" rx="12.5" ry="11"/><text x="228" y="1163">E</text>
<ellipse cx="313" cy="1152" rx="12.5" ry="11"/><text x="313" y="1152">D</text>
<ellipse cx="356" cy="1152" rx="12.5" ry="11"/><text x="356" y="1152">C</text>
<ellipse cx="404" cy="1152" rx="12.5" ry="11"/><text x="404" y="1152">B</text>
<ellipse cx="497" cy="1152" rx="12.5" ry="11"/><text x="497" y="1152">A</text>
<ellipse cx="584" cy="1152" rx="12.5" ry="11"/><text x="584" y="1152">E</text>
<ellipse cx="313" cy="1179" rx="12.5" ry="11"/><text x="313" y="1179">A</text>
<ellipse cx="404" cy="1179" rx="12.5" ry="11"/><text x="404" y="1179">B</text>
<ellipse cx="450" cy="1179" rx="12.5" ry="11"/><text x="450" y="1179">C</text>
<ellipse cx="497" cy="1179" rx="12.5" ry="11"/><text x="497" y="1179">D</text>
<ellipse cx="584" cy="1179" rx="12.5" ry="11"/><text x="584" y="1179">E</text>
</g>

<g class="b">
<rect x="627.5" y="29.5" width="80" height="19"/><text x="667" y="39">Lösung 1</text>
<rect x="627.5" y="56.5" width="80" height="19"/><text x="667" y="66">Lösung 2</text>
<rect x="627.5" y="82.5" width="80" height="19"/><text x="667" y="92">Lösung 3</text>
<rect x="627.5" y="109.5" width="80" height="19"/><text x="667" y="119">Lösung 4</text>
<rect x="627.5" y="135.5" width="80" height="19"/><text x="667" y="145">Lösung 5</text>
<rect x="627.5" y="162.5" width="80" height="19"/><text x="667" y="172">Lösung 6</text>
<rect x="627.5" y="188.5" width="80" height="19"/><text x="667" y="198">Lösung 7</text>
<rect x="627.5" y="214.5" width="80" height="19"/><text x="667" y="224">Lösung 8</text>
<rect x="627.5" y="241.5" width="80" height="19"/><text x="667" y="251">Lösung 9</text>
<rect x="627.5" y="267.5" width="80" height="19"/><text x="667" y="277">Lösung 10</text>
<rect x="627.5" y="294.5" width="80" height="19"/><text x="667" y="304">Lösung 11</text>
<rect x="627.5" y="320.5" width="80" height="19"/><text x="667" y="330">Lösung 12</text>
<rect x="627.5" y="346.5" width="80" height="19"/><text x="667" y="356">Lösung 13</text>
<rect x="627.5" y="373.5" width="80" height="19"/><text x="667" y="383">Lösung 14</text>
<rect x="627.5" y="399.5" width="80" height="19"/><text x="667" y="409">Lösung 15</text>
<rect x="627.5" y="426.5" width="80" height="19"/><text x="667" y="436">Lösung 16</text>
<rect x="627.5" y="452.5" width="80" height="19"/><text x="667" y="462">Lösung 17</text>
<rect x="627.5" y="478.5" width="80" height="19"/><text x="667" y="488">Lösung 18</text>
<rect x="627.5" y="505.5" width="80" height="19"/><text x="667" y="515">Lösung 19</text>
<rect x="627.5" y="531.5" width="80" height="19"/><text x="667" y="541">Lösung 20</text>
<rect x="627.5" y="558.5" width="80" height="19"/><text x="667" y="568">Lösung 21</text>
<rect x="627.5" y="584.5" width="80" height="19"/><text x="667" y="594">Lösung 22</text>
<rect x="627.5" y="610.5" width="80" height="19"/><text x="667" y="620">Lösung 23</text>
<rect x="627.5" y="637.5" width="80" height="19"/><text x="667" y="647">Lösung 24</text>
<rect x="627.5" y="663.5" width="80" height="19"/><text x="667" y="673">Lösung 25</text>
<rect x="627.5" y="690.5" width="80" height="19"/><text x="667" y="700">Lösung 26</text>
<rect x="627.5" y="716.5" width="80" height="19"/><text x="667" y="726">Lösung 27</text>
<rect x="627.5" y="742.5" width="80" height="19"/><text x="667" y="752">Lösung 28</text>
<rect x="627.5" y="769.5" width="80" height="19"/><text x="667" y="779">Lösung 29</text>
<rect x="627.5" y="795.5" width="80" height="19"/><text x="667" y="805">Lösung 30</text>
<rect x="627.5" y="822.5" width="80" height="19"/><text x="667" y="832">Lösung 31</text>
<rect x="627.5" y="848.5" width="80" height="19"/><text x="667" y="858">Lösung 32</text>
<rect x="627.5" y="874.5" width="80" height="19"/><text x="667" y="884">Lösung 33</text>
<rect x="627.5" y="901.5" width="80" height="19"/><text x="667" y="911">Lösung 34</text>
<rect x="627.5" y="927.5" width="80" height="19"/><text x="667" y="937">Lösung 35</text>
<rect x="627.5" y="954.5" width="80" height="19"/><text x="667" y="964">Lösung 36</text>
<rect x="627.5" y="980.5" width="80" height="19"/><text x="667" y="990">Lösung 37</text>
<rect x="627.5" y="1006.5" width="80" height="19"/><text x="667" y="1016">Lösung 38</text>
<rect x="627.5" y="1033.5" width="80" height="19"/><text x="667" y="1043">Lösung 39</text>
<rect x="627.5" y="1059.5" width="80" height="19"/><text x="667" y="1069">Lösung 40</text>
<rect x="627.5" y="1086.5" width="80" height="19"/><text x="667" y="1096">Lösung 41</text>
<rect x="627.5" y="1112.5" width="80" height="19"/><text x="667" y="1122">Lösung 42</text>
<rect x="627.5" y="1138.5" width="80" height="19"/><text x="667" y="1148">Lösung 43</text>
<rect x="627.5" y="1165.5" width="80" height="19"/><text x="667" y="1175">Lösung 44</text>
</g>
<g class="s">
<text x="723" y="398">S_1</text><text x="723" y="424">S_2</text><text x="723" y="477">S_3</text>
<text x="723" y="557">S_4</text><text x="723" y="609">S_5</text><text x="723" y="640">S_6</text>
<text x="723" y="665">S_7</text><text x="723" y="738">S_8</text><text x="723" y="971">S_9</text>
<text x="723" y="988">S_10</text>
</g>
</svg>
</body></html>
